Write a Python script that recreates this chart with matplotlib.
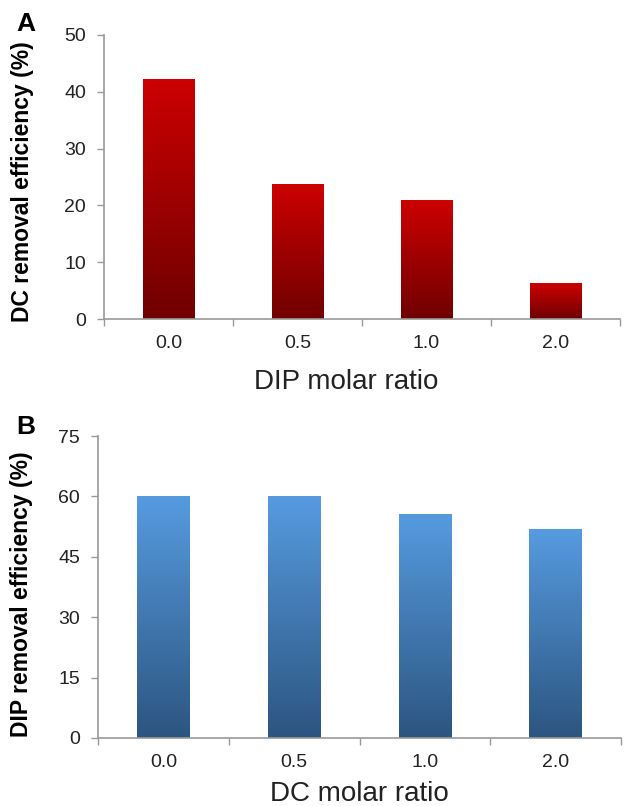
import numpy as np
import matplotlib
matplotlib.use("Agg")
import matplotlib.pyplot as plt
from matplotlib.colors import LinearSegmentedColormap

plt.rcParams["font.family"] = ["Liberation Sans", "DejaVu Sans"]

# data
dip_ratio = ["0.0", "0.5", "1.0", "2.0"]
dc_removal = [42.1, 23.6, 20.8, 6.2]

dc_ratio = ["0.0", "0.5", "1.0", "2.0"]
dip_removal = [60.1, 59.9, 55.4, 51.8]

red_cmap = LinearSegmentedColormap.from_list("red", ["#700000", "#cc0000"])
blue_cmap = LinearSegmentedColormap.from_list("blue", ["#2c5580", "#569be0"])


def gradient_bars(ax, labels, values, cmap):
    x = np.arange(len(labels))
    bars = ax.bar(x, values, width=0.4, facecolor="none", edgecolor="none",
                  zorder=3)
    grad = np.linspace(0, 1, 256).reshape(-1, 1)
    for b in bars:
        x0, y0 = b.get_x(), b.get_y()
        ax.imshow(grad, cmap=cmap, origin="lower", aspect="auto",
                  interpolation="bilinear",
                  extent=[x0, x0 + b.get_width(), y0, y0 + b.get_height()],
                  zorder=2)
    ax.set_xlim(-0.5, len(labels) - 0.5)


def style_axes(ax, labels, ymax, ystep, xlabel, ylabel):
    ax.set_ylim(0, ymax)
    ax.set_yticks(np.arange(0, ymax + 0.1, ystep))
    ax.set_xticks(np.arange(len(labels)))
    ax.set_xticklabels(labels)
    ax.set_xticks(np.arange(-0.5, len(labels)), minor=True)
    ax.tick_params(axis="x", which="major", length=0, pad=11.5, labelsize=14,
                   labelcolor="#222222")
    ax.tick_params(axis="x", which="minor", length=5, direction="out",
                   color="#999999", width=1)
    ax.tick_params(axis="y", length=5, direction="out", color="#999999",
                   width=1, labelsize=14, labelcolor="#222222", pad=8)
    for s in ["top", "right"]:
        ax.spines[s].set_visible(False)
    for s in ["left", "bottom"]:
        ax.spines[s].set_color("#999999")
        ax.spines[s].set_linewidth(1.2)
    ax.set_xlabel(xlabel, fontsize=20, color="#222222")
    ax.set_ylabel(ylabel, fontsize=16.5, fontweight="bold")


fig = plt.figure(figsize=(6.25, 8.06), dpi=100)

ax1 = fig.add_axes([0.1664, 0.6042, 0.8256, 0.3524])
gradient_bars(ax1, dip_ratio, dc_removal, red_cmap)
style_axes(ax1, dip_ratio, 50, 10, "DIP molar ratio", "DC removal efficiency (%)")
ax1.xaxis.set_label_coords(0.469, -0.175)
ax1.yaxis.set_label_coords(-0.136, 0.482)

ax2 = fig.add_axes([0.1568, 0.0844, 0.8368, 0.3746])
gradient_bars(ax2, dc_ratio, dip_removal, blue_cmap)
style_axes(ax2, dc_ratio, 75, 15, "DC molar ratio", "DIP removal efficiency (%)")
ax2.xaxis.set_label_coords(0.5, -0.142)
ax2.yaxis.set_label_coords(-0.124, 0.477)

fig.text(0.041, 0.970, "A", fontsize=19, fontweight="bold", ha="center", va="center")
fig.text(0.041, 0.470, "B", fontsize=19, fontweight="bold", ha="center", va="center")

fig.savefig("out.png", dpi=100)
